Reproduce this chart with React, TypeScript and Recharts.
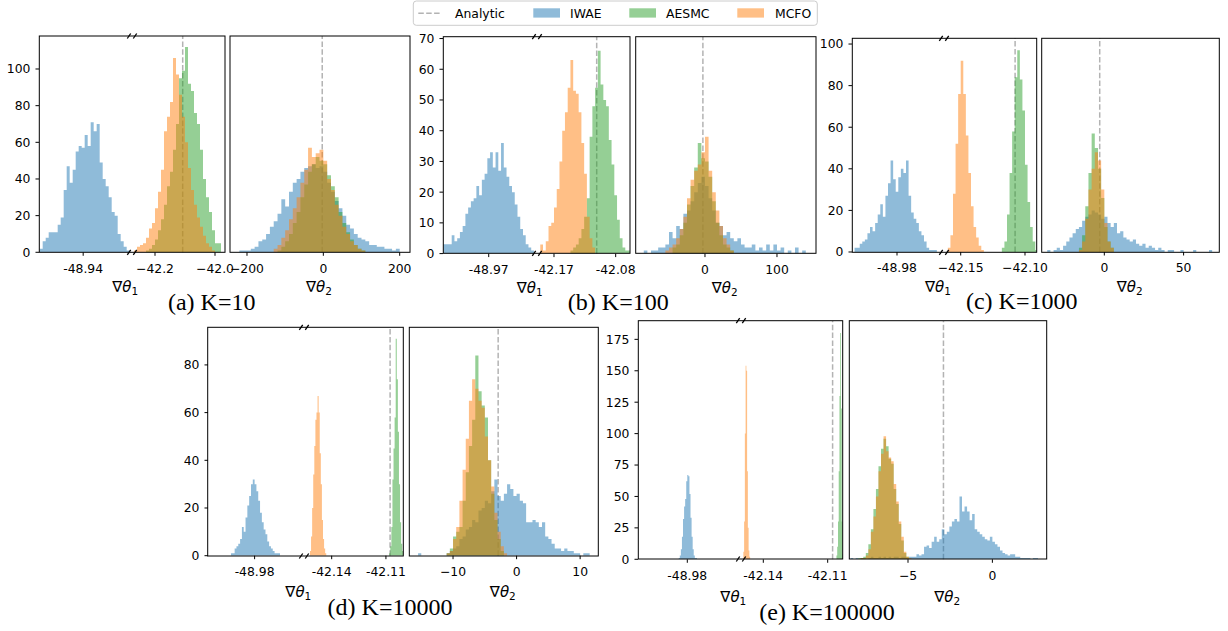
import React from "react";
import { ComposedChart, Area, XAxis, YAxis, ReferenceLine } from "recharts";

const COLORS: Record<string, string> = { iwae: "#1f77b4", aesmc: "#2ca02c", mcfo: "#ff7f0e" };
const ORDER = ["iwae", "aesmc", "mcfo"];
const SANS = "DejaVu Sans, sans-serif";
const SERIF = "Liberation Serif, Times New Roman, serif";

// analytic gradients (dashed vertical lines)
const analyticTheta1 = -42.1077;
const analyticTheta2 = -2.9;

// (a) K=10
const k10Theta1Iwae = [2, 6, 8, 11, 11, 11, 15, 19, 34, 47, 38, 45, 55, 58, 57, 64, 58, 71, 66, 70, 49, 40, 36, 30, 22, 20, 10, 6, 3, 1];
const k10Theta1Aesmc = [1, 2, 4, 7, 12, 18, 26, 36, 44, 56, 70, 95, 99, 112, 92, 88, 76, 70, 56, 40, 30, 22, 12, 5, 5];
const k10Theta1Mcfo = [1, 3, 4, 5, 8, 13, 16, 24, 33, 45, 66, 74, 82, 106, 97, 86, 74, 60, 46, 34, 26, 19, 14, 9, 5, 3, 1];
const k10Theta2Iwae = [0, 0, 1, 1, 1, 2, 3, 6, 7, 10, 14, 17, 21, 29, 25, 33, 38, 40, 44, 46, 47, 48, 46, 47, 44, 38, 33, 28, 24, 20, 15, 13, 10, 8, 7, 6, 4, 4, 3, 3, 2, 2, 1, 2];
const k10Theta2Aesmc = [1, 3, 6, 10, 16, 22, 30, 37, 44, 48, 52, 50, 48, 42, 36, 30, 22, 16, 11, 7, 4, 2, 1];
const k10Theta2Mcfo = [2, 4, 8, 12, 18, 24, 30, 38, 45, 57, 52, 54, 56, 50, 40, 34, 26, 20, 14, 10, 6, 4, 2, 1];

// (b) K=100
const k100Theta1Iwae = [3, 3, 3, 6, 4, 5, 7, 9, 13, 15, 17, 18, 22, 19, 24, 26, 31, 33, 28, 33, 27, 36, 28, 25, 22, 20, 16, 12, 8, 6, 3, 2, 1];
const k100Theta1Aesmc = [1, 2, 3, 5, 8, 12, 18, 38, 48, 54, 66, 55, 50, 48, 37, 29, 19, 11, 5, 2, 1, 1];
const k100Theta1Mcfo = [3, 1, 4, 9, 10, 15, 21, 30, 40, 46, 54, 63, 53, 52, 46, 36, 26, 12, 5, 2];
const k100Theta2Iwae = [0, 1, 0, 1, 1, 2, 2, 3, 7, 5, 9, 8, 13, 14, 17, 20, 23, 25, 22, 18, 14, 10, 9, 6, 7, 5, 4, 5, 3, 2, 2, 3, 1, 2, 1, 3, 1, 3, 1, 2, 0, 1, 0, 2, 0, 1];
const k100Theta2Aesmc = [2, 3, 6, 10, 16, 22, 28, 36, 31, 30, 25, 17, 10, 6, 3, 2, 1];
const k100Theta2Mcfo = [1, 2, 3, 5, 8, 12, 18, 24, 27, 29, 33, 38, 27, 20, 14, 9, 5, 3, 1];

// (c) K=1000
const k1000Theta1Iwae = [2, 2, 4, 5, 6, 9, 12, 10, 14, 18, 23, 17, 27, 33, 44, 35, 29, 36, 40, 38, 44, 27, 19, 16, 14, 10, 8, 5, 2, 1, 1, 1];
const k1000Theta1Aesmc = [2, 5, 18, 38, 58, 84, 97, 83, 68, 42, 24, 12, 5, 1];
const k1000Theta1Mcfo = [2, 8, 28, 52, 76, 92, 76, 56, 38, 22, 12, 7, 3, 1];
const k1000Theta2Iwae = [1, 0, 1, 2, 1, 3, 5, 7, 9, 11, 12, 15, 17, 18, 20, 19, 18, 16, 17, 14, 12, 14, 9, 10, 7, 6, 5, 6, 4, 3, 4, 2, 3, 2, 1, 2, 1, 0, 1, 1, 0, 0, 1, 0, 0, 0, 1, 0, 0, 0, 0, 1];
const k1000Theta2Aesmc = [2, 8, 22, 38, 57, 50, 40, 26, 12, 5, 2];
const k1000Theta2Mcfo = [1, 5, 16, 30, 40, 48, 44, 30, 14, 5, 2];

// (d) K=10000
const k10000Theta1Iwae = [1, 1, 3, 4, 5, 7, 12, 10, 16, 21, 25, 30, 32, 30, 27, 23, 18, 14, 11, 9, 6, 4, 3, 2, 1, 1, 1];
const k10000Theta1Aesmc = [1, 4, 12, 32, 45, 58, 91, 74, 52, 30, 14, 5, 2];
const k10000Theta1Mcfo = [2, 8, 20, 34, 46, 57, 60, 67, 60, 43, 30, 15, 7, 3, 1];
const k10000Theta2Iwae = [0, 1, 0, 0, 0, 0, 0, 0, 0, 0, 1, 2, 3, 4, 7, 8, 11, 12, 15, 14, 19, 20, 23, 22, 27, 32, 25, 23, 26, 30, 28, 25, 26, 23, 22, 14, 14, 15, 14, 12, 14, 8, 7, 5, 3, 3, 2, 3, 2, 2, 1, 1, 0, 1, 1];
const k10000Theta2Aesmc = [1, 3, 8, 10, 12, 23, 35, 46, 57, 84, 69, 63, 58, 40, 26, 15, 7, 2];
const k10000Theta2Mcfo = [1, 2, 7, 12, 23, 36, 49, 65, 74, 70, 65, 62, 50, 40, 29, 18, 10, 4, 1];

// (e) K=100000
const k100000Theta1Iwae = [1, 3, 8, 18, 32, 42, 48, 62, 67, 66, 52, 33, 18, 8, 3, 1, 1];
const k100000Theta1Aesmc = [3, 10, 30, 70, 130, 180, 120, 30, 4];
const k100000Theta1Mcfo = [6, 30, 100, 154, 150, 70, 25, 7, 2];
const k100000Theta2Iwae = [1, 0, 1, 0, 1, 1, 0, 1, 2, 1, 1, 2, 1, 2, 1, 2, 1, 2, 2, 1, 2, 2, 1, 2, 2, 2, 4, 3, 4, 10, 11, 9, 14, 18, 14, 16, 24, 20, 22, 26, 30, 32, 30, 50, 38, 42, 38, 31, 36, 24, 22, 20, 18, 16, 15, 18, 14, 12, 10, 7, 5, 4, 3, 4, 4, 2, 2, 1, 1, 1, 1, 0, 1, 1];
const k100000Theta2Aesmc = [1, 1, 2, 5, 12, 24, 40, 56, 74, 88, 96, 90, 80, 76, 56, 44, 28, 15, 5, 2];
const k100000Theta2Mcfo = [1, 1, 3, 8, 22, 34, 50, 70, 84, 98, 86, 81, 78, 60, 46, 30, 18, 6, 2, 1];

type Hist = { from: number; step: number; counts: number[] };
const hist = (from: number, step: number, counts: number[]): Hist => ({ from, step, counts });

type Part = {
  x0: number;
  x1: number;
  domain: [number, number];
  ticks: number[];
  labels: string[];
  series: Record<string, Hist>;
  showY?: boolean;
  analytic?: number;
};

type Panel = {
  top: number;
  bottom: number;
  yMax: number;
  yTicks: number[];
  caption: string;
  captionX: number;
  captionY: number;
  brk: number;
  t1Label: [number, number];
  t2Label: [number, number];
  t1Left: Part;
  t1Right: Part;
  t2: Part;
};

const panels: Panel[] = [
  {
    top: 36, bottom: 252.3, yMax: 118, yTicks: [0, 20, 40, 60, 80, 100],
    caption: "(a) K=10", captionX: 211.7, captionY: 309.5, brk: 132,
    t1Label: [125.2, 291.5], t2Label: [319, 291.5],
    t1Left: { x0: 39.3, x1: 132, domain: [-49.0873, -48.7783], ticks: [-48.94], labels: ["-48.94"], showY: true,
      series: { iwae: hist(-49.085, 0.01, k10Theta1Iwae) } },
    t1Right: { x0: 132, x1: 225, domain: [-42.2767, -41.9667], ticks: [-42.2, -42.0], labels: ["\u221242.2", "\u221242.0"], analytic: analyticTheta1,
      series: { aesmc: hist(-42.23, 0.01, k10Theta1Aesmc), mcfo: hist(-42.27, 0.01, k10Theta1Mcfo) } },
    t2: { x0: 230, x1: 410, domain: [-244.5, 227], ticks: [-200, 0, 200], labels: ["\u2212200", "0", "200"], analytic: analyticTheta2,
      series: { iwae: hist(-240, 10, k10Theta2Iwae), aesmc: hist(-120, 10, k10Theta2Aesmc), mcfo: hist(-130, 10, k10Theta2Mcfo) } },
  },
  {
    top: 36.7, bottom: 253.3, yMax: 70.5, yTicks: [0, 10, 20, 30, 40, 50, 60, 70],
    caption: "(b) K=100", captionX: 618.3, captionY: 309.5, brk: 537,
    t1Label: [529.7, 292.5], t2Label: [724.7, 292.5],
    t1Left: { x0: 443.3, x1: 537, domain: [-49.0367, -48.9], ticks: [-48.97], labels: ["-48.97"], showY: true,
      series: { iwae: hist(-49.036, 0.004, k100Theta1Iwae) } },
    t1Right: { x0: 537, x1: 630, domain: [-42.1948, -42.0591], ticks: [-42.17, -42.08], labels: ["-42.17", "-42.08"], analytic: analyticTheta1,
      series: { aesmc: hist(-42.146, 0.004, k100Theta1Aesmc), mcfo: hist(-42.19, 0.004, k100Theta1Mcfo) } },
    t2: { x0: 635.7, x1: 816, domain: [-95.8, 154.6], ticks: [0, 100], labels: ["0", "100"], analytic: analyticTheta2,
      series: { iwae: hist(-90, 5, k100Theta2Iwae), aesmc: hist(-45, 5, k100Theta2Aesmc), mcfo: hist(-55, 5, k100Theta2Mcfo) } },
  },
  {
    top: 38.3, bottom: 252.3, yMax: 102.9, yTicks: [0, 20, 40, 60, 80, 100],
    caption: "(c) K=1000", captionX: 1021.7, captionY: 309, brk: 944,
    t1Label: [938, 291.5], t2Label: [1129.7, 291.5],
    t1Left: { x0: 852.3, x1: 944, domain: [-49.015, -48.9437], ticks: [-48.98], labels: ["-48.98"], showY: true,
      series: { iwae: hist(-49.013, 0.002, k1000Theta1Iwae) } },
    t1Right: { x0: 944, x1: 1036.7, domain: [-42.163, -42.0909], ticks: [-42.15, -42.1], labels: ["\u221242.15", "\u221242.10"], analytic: analyticTheta1,
      series: { aesmc: hist(-42.118, 0.002, k1000Theta1Aesmc), mcfo: hist(-42.16, 0.002, k1000Theta1Mcfo) } },
    t2: { x0: 1041.7, x1: 1219.3, domain: [-39.3, 72.7], ticks: [0, 50], labels: ["0", "50"], analytic: analyticTheta2,
      series: { iwae: hist(-36, 2, k1000Theta2Iwae), aesmc: hist(-16, 2, k1000Theta2Aesmc), mcfo: hist(-16, 2, k1000Theta2Mcfo) } },
  },
  {
    top: 327.3, bottom: 556, yMax: 95.9, yTicks: [0, 20, 40, 60, 80],
    caption: "(d) K=10000", captionX: 390, captionY: 615, brk: 304,
    t1Label: [298.3, 597], t2Label: [502.8, 597],
    t1Left: { x0: 207.7, x1: 304, domain: [-49.0057, -48.9526], ticks: [-48.98], labels: ["-48.98"], showY: true,
      series: { iwae: hist(-48.993, 0.001, k10000Theta1Iwae) } },
    t1Right: { x0: 304, x1: 403.3, domain: [-42.1553, -42.1004], ticks: [-42.14, -42.11], labels: ["-42.14", "-42.11"], analytic: analyticTheta1,
      series: { aesmc: hist(-42.1082, 0.0006, k10000Theta1Aesmc), mcfo: hist(-42.152, 0.0006, k10000Theta1Mcfo) } },
    t2: { x0: 409.3, x1: 598.3, domain: [-16.93, 12.81], ticks: [-10, 0, 10], labels: ["\u221210", "0", "10"], analytic: analyticTheta2,
      series: { iwae: hist(-16, 0.5, k10000Theta2Iwae), aesmc: hist(-11, 0.5, k10000Theta2Aesmc), mcfo: hist(-11, 0.5, k10000Theta2Mcfo) } },
  },
  {
    top: 320.7, bottom: 559, yMax: 189.6, yTicks: [0, 25, 50, 75, 100, 125, 150, 175],
    caption: "(e) K=100000", captionX: 827, captionY: 620, brk: 741,
    t1Label: [733.3, 601.5], t2Label: [947.2, 601.5],
    t1Left: { x0: 638.3, x1: 741, domain: [-49.003, -48.9551], ticks: [-48.98], labels: ["-48.98"], showY: true,
      series: { iwae: hist(-48.984, 0.0005, k100000Theta1Iwae) } },
    t1Right: { x0: 741, x1: 842.7, domain: [-42.1504, -42.103], ticks: [-42.14, -42.11], labels: ["-42.14", "-42.11"], analytic: analyticTheta1,
      series: { aesmc: hist(-42.1059, 0.00035, k100000Theta1Aesmc), mcfo: hist(-42.1493, 0.00035, k100000Theta1Mcfo) } },
    t2: { x0: 849.3, x1: 1046.7, domain: [-8.497, 3.2], ticks: [-5, 0], labels: ["\u22125", "0"], analytic: analyticTheta2,
      series: { iwae: hist(-8.4, 0.15, k100000Theta2Iwae), aesmc: hist(-7.95, 0.15, k100000Theta2Aesmc), mcfo: hist(-7.8, 0.15, k100000Theta2Mcfo) } },
  },
];

// step-histogram rows on a shared bin grid; a trailing 0 closes each histogram
function buildRows(series: Record<string, Hist>) {
  const keys = ORDER.filter((k) => series[k]);
  const step = series[keys[0]].step;
  const start = Math.min(...keys.map((k) => series[k].from));
  const offs = keys.map((k) => Math.round((series[k].from - start) / step));
  const n = Math.max(...keys.map((k, j) => offs[j] + series[k].counts.length + 1));
  const rows: Record<string, number | null>[] = [];
  for (let i = 0; i < n; i++) {
    const row: Record<string, number | null> = { x: start + i * step };
    keys.forEach((k, j) => {
      const c = series[k].counts;
      const idx = i - offs[j];
      row[k] = idx >= 0 && idx < c.length ? c[idx] : idx === c.length ? 0 : null;
    });
    rows.push(row);
  }
  return { rows, keys };
}

const TICK_FONT = 12.4;
// room around each plot so edge tick labels are not cut
const PAD_TOP = 10;
const PAD_RIGHT = 30;
const PAD_LEFT = 30;
const Y_AXIS_W = 50;

function HistChart({ part, top, bottom, yMax, yTicks }: { part: Part; top: number; bottom: number; yMax: number; yTicks: number[] }) {
  const leftSpace = part.showY ? Y_AXIS_W : PAD_LEFT;
  const xh = 34;
  const w = part.x1 - part.x0 + leftSpace + PAD_RIGHT;
  const h = bottom - top + xh + PAD_TOP;
  const { rows, keys } = buildRows(part.series);
  const tickStyle = { fontSize: TICK_FONT, fill: "#000", fontFamily: SANS };
  return (
    <div style={{ position: "absolute", left: part.x0 - leftSpace, top: top - PAD_TOP, width: w, height: h }}>
      <ComposedChart
        width={w}
        height={h}
        data={rows}
        margin={{ top: PAD_TOP, right: PAD_RIGHT, bottom: 0, left: part.showY ? 0 : PAD_LEFT }}
      >
        <XAxis
          dataKey="x"
          type="number"
          domain={part.domain}
          allowDataOverflow
          ticks={part.ticks}
          interval={0}
          tickFormatter={(v: number) => part.labels[part.ticks.indexOf(v)] ?? String(v)}
          axisLine={false}
          tickLine={{ stroke: "#000" }}
          tickSize={3.5}
          tickMargin={8}
          height={xh}
          tick={tickStyle}
        />
        <YAxis
          type="number"
          domain={[0, yMax]}
          allowDataOverflow
          ticks={yTicks}
          interval={0}
          hide={!part.showY}
          width={Y_AXIS_W}
          axisLine={false}
          tickLine={{ stroke: "#000" }}
          tickSize={3.5}
          tickMargin={5}
          tick={tickStyle}
        />
        {part.analytic !== undefined && (
          <ReferenceLine
            x={part.analytic}
            stroke="#808080"
            strokeOpacity={0.6}
            strokeWidth={1.5}
            strokeDasharray="5.5 2.4"
            zIndex={0}
          />
        )}
        {keys.map((k) => (
          <Area
            key={k}
            dataKey={k}
            type="stepAfter"
            stroke="none"
            fill={COLORS[k]}
            fillOpacity={0.5}
            connectNulls={false}
            dot={false}
            activeDot={false}
            isAnimationActive={false}
          />
        ))}
      </ComposedChart>
    </div>
  );
}

function GradLabel({ x, y, sub }: { x: number; y: number; sub: string }) {
  return (
    <text x={x} y={y} textAnchor="middle" fontFamily={SANS} fontSize={15} fill="#000">
      {"\u2207"}
      <tspan fontStyle="italic">{"\u03b8"}</tspan>
      <tspan fontSize={10.5} dy={3}>{sub}</tspan>
    </text>
  );
}

function BreakMarks({ x, y }: { x: number; y: number }) {
  return (
    <g stroke="#000" strokeWidth={1.3}>
      <line x1={x - 4.7} y1={y + 2.5} x2={x - 1.3} y2={y - 2.5} />
      <line x1={x + 1.3} y1={y + 2.5} x2={x + 4.7} y2={y - 2.5} />
    </g>
  );
}

function Overlay() {
  const legendY = 13.3;
  return (
    <svg width={1228} height={631} style={{ position: "absolute", left: 0, top: 0, pointerEvents: "none" }}>
      {panels.map((p, i) => (
        <g key={i}>
          <rect x={p.t1Left.x0} y={p.top} width={p.t1Right.x1 - p.t1Left.x0} height={p.bottom - p.top} fill="none" stroke="#000" strokeWidth={1} />
          <rect x={p.t2.x0} y={p.top} width={p.t2.x1 - p.t2.x0} height={p.bottom - p.top} fill="none" stroke="#000" strokeWidth={1} />
          <BreakMarks x={p.brk} y={p.top} />
          <BreakMarks x={p.brk} y={p.bottom} />
          <GradLabel x={p.t1Label[0]} y={p.t1Label[1]} sub="1" />
          <GradLabel x={p.t2Label[0]} y={p.t2Label[1]} sub="2" />
          <text x={p.captionX} y={p.captionY} textAnchor="middle" fontFamily={SERIF} fontSize={24} fill="#000">
            {p.caption}
          </text>
        </g>
      ))}
      <rect x={413.3} y={1} width={404} height={24.3} rx={3} fill="#fff" fillOpacity={0.8} stroke="#cccccc" strokeWidth={1} />
      <line x1={418.3} x2={441.7} y1={legendY} y2={legendY} stroke="#808080" strokeOpacity={0.6} strokeWidth={1.5} strokeDasharray="5.5 2.4" />
      <g fontFamily={SANS} fontSize={TICK_FONT} fill="#000">
        <text x={455} y={17.6}>Analytic</text>
        <rect x={533.3} y={8.3} width={26.7} height={9.3} fill={COLORS.iwae} fillOpacity={0.5} />
        <text x={570} y={17.6}>IWAE</text>
        <rect x={629.3} y={8.3} width={26.7} height={9.3} fill={COLORS.aesmc} fillOpacity={0.5} />
        <text x={666} y={17.6}>AESMC</text>
        <rect x={737.3} y={8.3} width={26.7} height={9.3} fill={COLORS.mcfo} fillOpacity={0.5} />
        <text x={775} y={17.6}>MCFO</text>
      </g>
    </svg>
  );
}

export default function App() {
  return (
    <div style={{ position: "absolute", left: 0, top: 0, width: 1228, height: 631, background: "#fff", overflow: "hidden" }}>
      {panels.map((p, i) => (
        <React.Fragment key={i}>
          <HistChart part={p.t1Left} top={p.top} bottom={p.bottom} yMax={p.yMax} yTicks={p.yTicks} />
          <HistChart part={p.t1Right} top={p.top} bottom={p.bottom} yMax={p.yMax} yTicks={p.yTicks} />
          <HistChart part={p.t2} top={p.top} bottom={p.bottom} yMax={p.yMax} yTicks={p.yTicks} />
        </React.Fragment>
      ))}
      <Overlay />
    </div>
  );
}
